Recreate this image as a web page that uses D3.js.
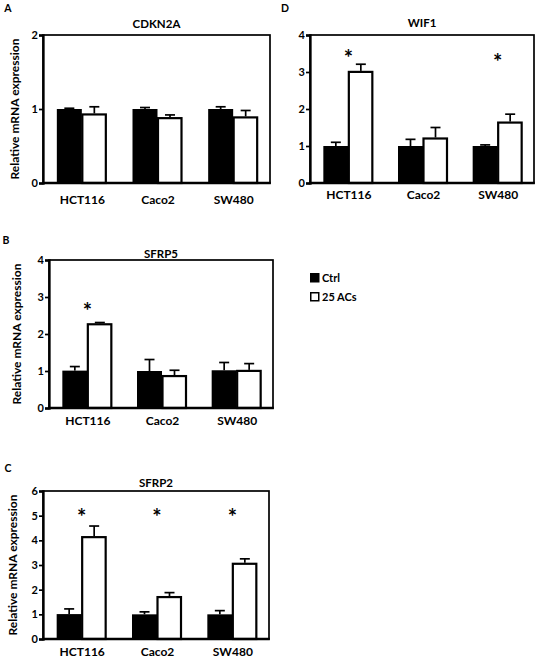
<!DOCTYPE html>
<html>
<head>
<meta charset="utf-8">
<script src="https://cdn.jsdelivr.net/npm/d3@7"></script>
<style>
  html, body { margin: 0; padding: 0; background: #fff; }
  svg { display: block; font-family: Lato, "Open Sans", sans-serif; font-weight: bold; }
</style>
</head>
<body>
<svg id="chart" width="540" height="659"></svg>
<script>
// ---------- data ----------
const categories = ["HCT116", "Caco2", "SW480"];
const seriesNames = ["Ctrl", "25 ACs"];

const cdkn2aCtrl = [1.00, 1.00, 1.00];
const cdkn2aCtrlErr = [0.01, 0.02, 0.03];
const cdkn2aAcs = [0.94, 0.89, 0.90];
const cdkn2aAcsErr = [0.09, 0.03, 0.08];
const cdkn2aStars = [null, null, null];

const wif1Ctrl = [1.00, 1.00, 1.00];
const wif1CtrlErr = [0.10, 0.18, 0.03];
const wif1Acs = [3.03, 1.23, 1.66];
const wif1AcsErr = [0.18, 0.27, 0.20];
const wif1Stars = [3.5, null, 3.38];

const sfrp5Ctrl = [1.01, 1.00, 1.02];
const sfrp5CtrlErr = [0.11, 0.31, 0.21];
const sfrp5Acs = [2.29, 0.89, 1.03];
const sfrp5AcsErr = [0.02, 0.13, 0.17];
const sfrp5Stars = [2.73, null, null];

const sfrp2Ctrl = [1.01, 1.00, 1.00];
const sfrp2CtrlErr = [0.21, 0.10, 0.15];
const sfrp2Acs = [4.17, 1.74, 3.09];
const sfrp2AcsErr = [0.41, 0.14, 0.16];
const sfrp2Stars = [5.1, 5.1, 5.1];

const ticksA = [0, 1, 2];
const ticksB = [0, 1, 2, 3, 4];
const ticksC = [0, 1, 2, 3, 4, 5, 6];
const ticksD = [0, 1, 2, 3, 4];

// ---------- layout ----------
const panels = [
  { letter: "A", title: "CDKN2A", ctrl: cdkn2aCtrl, ctrlErr: cdkn2aCtrlErr, acs: cdkn2aAcs, acsErr: cdkn2aAcsErr, stars: cdkn2aStars,
    ticks: ticksA, left: 43, right: 270, top: 35, bottom: 183, yTitle: true, yTitleX: 15, letterPos: [8, 12], titleDy: -7, catDy: 21 },
  { letter: "D", title: "WIF1", ctrl: wif1Ctrl, ctrlErr: wif1CtrlErr, acs: wif1Acs, acsErr: wif1AcsErr, stars: wif1Stars,
    ticks: ticksD, left: 310, right: 534, top: 35, bottom: 183, yTitle: false, letterPos: [285, 12], titleDy: -8, catDy: 16 },
  { letter: "B", title: "SFRP5", ctrl: sfrp5Ctrl, ctrlErr: sfrp5CtrlErr, acs: sfrp5Acs, acsErr: sfrp5AcsErr, stars: sfrp5Stars,
    ticks: ticksB, left: 49, right: 273, top: 260, bottom: 408, yTitle: true, yTitleX: 17, letterPos: [6, 244], titleDy: -2, catDy: 17 },
  { letter: "C", title: "SFRP2", ctrl: sfrp2Ctrl, ctrlErr: sfrp2CtrlErr, acs: sfrp2Acs, acsErr: sfrp2AcsErr, stars: sfrp2Stars,
    ticks: ticksC, left: 43, right: 269, top: 491, bottom: 639, yTitle: true, yTitleX: 13, letterPos: [8, 472], titleDy: -4, catDy: 17 }
];

const svg = d3.select("#chart");

panels.forEach(p => {
  const g = svg.append("g");
  const y = d3.scaleLinear().domain([p.ticks[0], p.ticks[p.ticks.length - 1]]).range([p.bottom, p.top]);
  const x = d3.scalePoint().domain(categories).range([p.left + 1, p.right + 1]).padding(0.5);
  const xs = d3.scaleBand().domain(seriesNames).range([-25, 25]).padding(0);
  const bw = xs.bandwidth();

  // frame
  g.append("rect").attr("x", p.left).attr("y", p.top)
    .attr("width", p.right - p.left).attr("height", p.bottom - p.top)
    .attr("fill", "none").attr("stroke", "#000").attr("stroke-width", 1.7);

  const rows = categories.map((c, i) => ({ cat: c, i }));

  rows.forEach(r => {
    const cx = x(r.cat);
    const vC = p.ctrl[r.i], eC = p.ctrlErr[r.i];
    const vA = p.acs[r.i], eA = p.acsErr[r.i];
    const xC = cx + xs("Ctrl"), xA = cx + xs("25 ACs");

    [[xC, vC, eC], [xA, vA, eA]].forEach(([bx, v, e]) => {
      const mx = bx + bw / 2;
      g.append("line").attr("x1", mx).attr("x2", mx).attr("y1", y(v)).attr("y2", y(v + e))
        .attr("stroke", "#000").attr("stroke-width", 1.7);
      g.append("line").attr("x1", mx - 5).attr("x2", mx + 5).attr("y1", y(v + e)).attr("y2", y(v + e))
        .attr("stroke", "#000").attr("stroke-width", 1.7);
    });

    g.append("rect").attr("x", xC).attr("y", y(vC)).attr("width", bw).attr("height", y(0) - y(vC))
      .attr("fill", "#000");
    g.append("rect").attr("x", xA + 0.5).attr("y", y(vA) + 1).attr("width", bw - 1.5).attr("height", y(0) - y(vA) - 1)
      .attr("fill", "#fff").attr("stroke", "#000").attr("stroke-width", 2.2);

    if (p.stars[r.i] != null) {
      g.append("text").attr("x", cx).attr("y", y(p.stars[r.i]) + 12)
        .attr("text-anchor", "middle").attr("font-size", 22).attr("font-weight", "bold").text("*");
    }
  });

  const ya = g.append("g").attr("transform", `translate(${p.left},0)`)
    .call(d3.axisLeft(y).tickValues(p.ticks).tickSize(4).tickPadding(1).tickFormat(d3.format("d")));
  ya.select(".domain").attr("stroke-width", 2.3);
  ya.selectAll(".tick line").attr("stroke-width", 1.7);
  ya.selectAll("text").attr("font-size", 11).attr("font-weight", "bold").attr("font-family", "Lato, sans-serif").attr("fill", "#000");

  g.append("line").attr("x1", p.left - 1).attr("x2", p.right + 0.8).attr("y1", p.bottom).attr("y2", p.bottom)
    .attr("stroke", "#000").attr("stroke-width", 2.3);

  const xa = g.append("g").attr("transform", `translate(0,${p.bottom + p.catDy - 9})`)
    .call(d3.axisBottom(x).tickSize(0).tickPadding(0));
  xa.select(".domain").remove();
  xa.selectAll("text").attr("font-size", 12).attr("font-weight", "bold").attr("font-family", "Lato, sans-serif").attr("fill", "#000");

  g.append("text").attr("x", (p.left + p.right) / 2).attr("y", p.top + p.titleDy)
    .attr("text-anchor", "middle").attr("font-size", 11.5).text(p.title);

  g.append("text").attr("x", p.letterPos[0]).attr("y", p.letterPos[1])
    .attr("text-anchor", "middle").attr("font-size", 10.5).text(p.letter);

  if (p.yTitle) {
    g.append("text").attr("transform", `translate(${p.yTitleX},${(p.top + p.bottom) / 2}) rotate(-90)`)
      .attr("text-anchor", "middle").attr("dy", "0.35em").attr("font-size", 12).text("Relative mRNA expression");
  }
});

// legend
const legend = svg.append("g").attr("transform", "translate(310,273)");
seriesNames.forEach((s, i) => {
  const lg = legend.append("g").attr("transform", `translate(0,${i * 19})`);
  lg.append("rect").attr("x", 0.75).attr("y", 0.75).attr("width", 8).attr("height", 8)
    .attr("fill", i === 0 ? "#000" : "#fff").attr("stroke", "#000").attr("stroke-width", 1.5);
  lg.append("text").attr("x", 12).attr("y", 8.5).attr("font-size", 11).text(s);
});
</script>
</body>
</html>
